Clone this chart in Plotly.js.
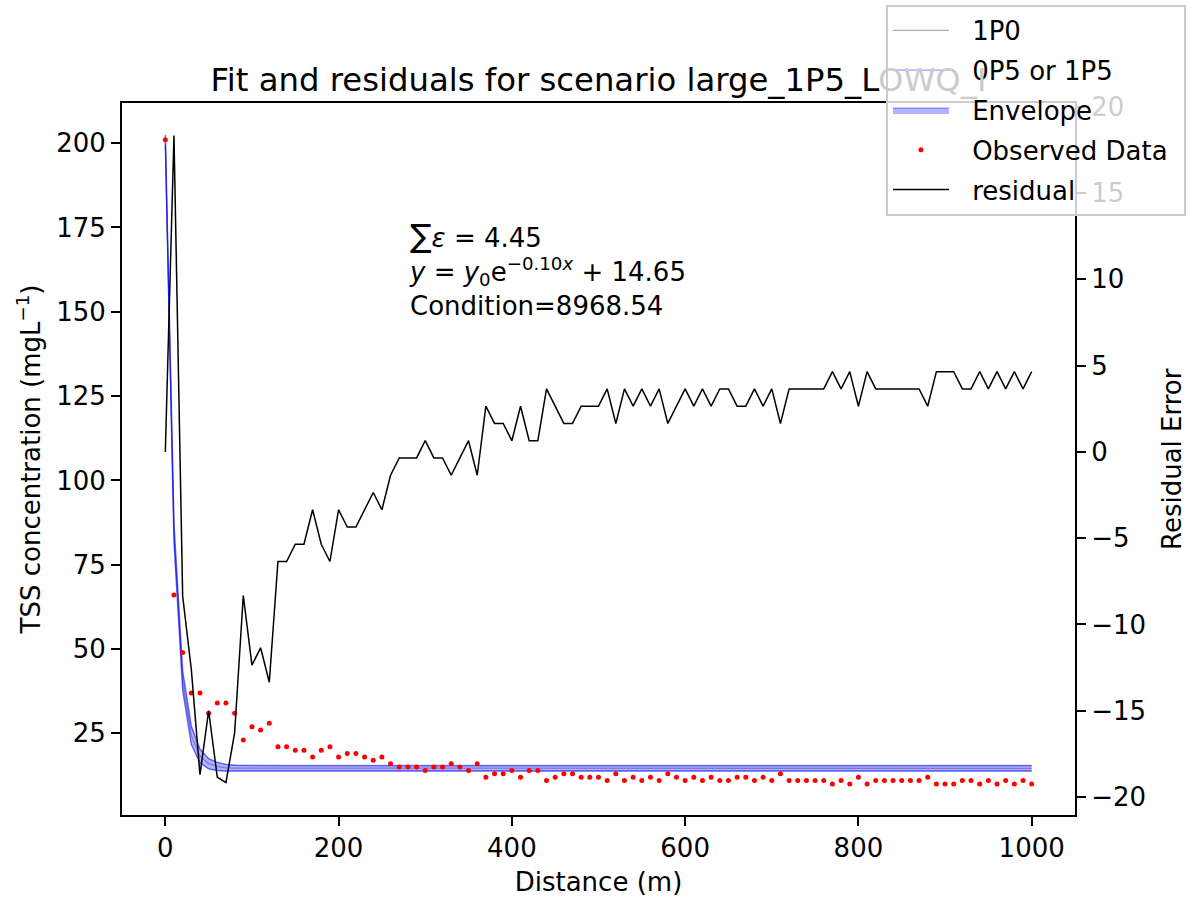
<!DOCTYPE html>
<html><head><meta charset="utf-8">
<script src="https://cdn.plot.ly/plotly-3.0.1.min.js"></script>
<style>body{margin:0;background:#fff}#chart{width:1196px;height:901px}</style>
</head><body><div id="chart"></div>
<script>
const distance = [
  0, 10, 20, 30, 40, 50, 60, 70, 80, 90,
  100, 110, 120, 130, 140, 150, 160, 170, 180, 190,
  200, 210, 220, 230, 240, 250, 260, 270, 280, 290,
  300, 310, 320, 330, 340, 350, 360, 370, 380, 390,
  400, 410, 420, 430, 440, 450, 460, 470, 480, 490,
  500, 510, 520, 530, 540, 550, 560, 570, 580, 590,
  600, 610, 620, 630, 640, 650, 660, 670, 680, 690,
  700, 710, 720, 730, 740, 750, 760, 770, 780, 790,
  800, 810, 820, 830, 840, 850, 860, 870, 880, 890,
  900, 910, 920, 930, 940, 950, 960, 970, 980, 990,
  1000];

const observed = [
  201, 66, 49, 37, 37, 31, 34, 34, 31, 23,
  27, 26, 28, 21, 21, 20, 20, 18, 20, 21,
  18, 19, 19, 18, 17, 18, 16, 15, 15, 15,
  14, 15, 15, 16, 15, 14, 16, 12, 13, 13,
  14, 12, 14, 14, 11, 12, 13, 13, 12, 12,
  12, 11, 13, 11, 12, 11, 12, 11, 13, 12,
  11, 12, 11, 12, 11, 11, 12, 12, 11, 12,
  11, 13, 11, 11, 11, 11, 11, 10, 11, 10,
  12, 10, 11, 11, 11, 11, 11, 11, 12, 10,
  10, 10, 11, 11, 10, 11, 10, 11, 10, 11,
  10];

const residual = [
  0.0, 18.34, -8.35, -12.6, -18.7, -15.0, -18.85, -19.16, -16.28, -8.32,
  -12.35, -11.35, -13.35, -6.35, -6.35, -5.35, -5.35, -3.35, -5.35, -6.35,
  -3.35, -4.35, -4.35, -3.35, -2.35, -3.35, -1.35, -0.35, -0.35, -0.35,
  0.65, -0.35, -0.35, -1.35, -0.35, 0.65, -1.35, 2.65, 1.65, 1.65,
  0.65, 2.65, 0.65, 0.65, 3.65, 2.65, 1.65, 1.65, 2.65, 2.65,
  2.65, 3.65, 1.65, 3.65, 2.65, 3.65, 2.65, 3.65, 1.65, 2.65,
  3.65, 2.65, 3.65, 2.65, 3.65, 3.65, 2.65, 2.65, 3.65, 2.65,
  3.65, 1.65, 3.65, 3.65, 3.65, 3.65, 3.65, 4.65, 3.65, 4.65,
  2.65, 4.65, 3.65, 3.65, 3.65, 3.65, 3.65, 3.65, 2.65, 4.65,
  4.65, 4.65, 3.65, 3.65, 4.65, 3.65, 4.65, 3.65, 4.65, 3.65,
  4.65];

const fit1P0 = [
  201.0, 84.3, 40.7, 24.4, 18.3, 16.0, 15.2, 14.8, 14.7, 14.7,
  14.65, 14.65, 14.65, 14.65, 14.65, 14.65, 14.65, 14.65, 14.65, 14.65,
  14.65, 14.65, 14.65, 14.65, 14.65, 14.65, 14.65, 14.65, 14.65, 14.65,
  14.65, 14.65, 14.65, 14.65, 14.65, 14.65, 14.65, 14.65, 14.65, 14.65,
  14.65, 14.65, 14.65, 14.65, 14.65, 14.65, 14.65, 14.65, 14.65, 14.65,
  14.65, 14.65, 14.65, 14.65, 14.65, 14.65, 14.65, 14.65, 14.65, 14.65,
  14.65, 14.65, 14.65, 14.65, 14.65, 14.65, 14.65, 14.65, 14.65, 14.65,
  14.65, 14.65, 14.65, 14.65, 14.65, 14.65, 14.65, 14.65, 14.65, 14.65,
  14.65, 14.65, 14.65, 14.65, 14.65, 14.65, 14.65, 14.65, 14.65, 14.65,
  14.65, 14.65, 14.65, 14.65, 14.65, 14.65, 14.65, 14.65, 14.65, 14.65,
  14.65];

const fit0P5 = [
  199.5, 81.5, 37.9, 21.7, 16.3, 14.5, 14.0, 13.8, 13.85, 13.85,
  13.85, 13.85, 13.85, 13.85, 13.85, 13.85, 13.85, 13.85, 13.85, 13.85,
  13.85, 13.85, 13.85, 13.85, 13.85, 13.85, 13.85, 13.85, 13.85, 13.85,
  13.85, 13.85, 13.85, 13.85, 13.85, 13.85, 13.85, 13.85, 13.85, 13.85,
  13.85, 13.85, 13.85, 13.85, 13.85, 13.85, 13.85, 13.85, 13.85, 13.85,
  13.85, 13.85, 13.85, 13.85, 13.85, 13.85, 13.85, 13.85, 13.85, 13.85,
  13.85, 13.85, 13.85, 13.85, 13.85, 13.85, 13.85, 13.85, 13.85, 13.85,
  13.85, 13.85, 13.85, 13.85, 13.85, 13.85, 13.85, 13.85, 13.85, 13.85,
  13.85, 13.85, 13.85, 13.85, 13.85, 13.85, 13.85, 13.85, 13.85, 13.85,
  13.85, 13.85, 13.85, 13.85, 13.85, 13.85, 13.85, 13.85, 13.85, 13.85,
  13.85];

const fit1P5 = [
  202.5, 87.1, 43.5, 27.1, 20.3, 17.5, 16.4, 15.8, 15.55, 15.5,
  15.45, 15.45, 15.45, 15.45, 15.45, 15.45, 15.45, 15.45, 15.45, 15.45,
  15.45, 15.45, 15.45, 15.45, 15.45, 15.45, 15.45, 15.45, 15.45, 15.45,
  15.45, 15.45, 15.45, 15.45, 15.45, 15.45, 15.45, 15.45, 15.45, 15.45,
  15.45, 15.45, 15.45, 15.45, 15.45, 15.45, 15.45, 15.45, 15.45, 15.45,
  15.45, 15.45, 15.45, 15.45, 15.45, 15.45, 15.45, 15.45, 15.45, 15.45,
  15.45, 15.45, 15.45, 15.45, 15.45, 15.45, 15.45, 15.45, 15.45, 15.45,
  15.45, 15.45, 15.45, 15.45, 15.45, 15.45, 15.45, 15.45, 15.45, 15.45,
  15.45, 15.45, 15.45, 15.45, 15.45, 15.45, 15.45, 15.45, 15.45, 15.45,
  15.45, 15.45, 15.45, 15.45, 15.45, 15.45, 15.45, 15.45, 15.45, 15.45,
  15.45];

const leftTicks = [25, 50, 75, 100, 125, 150, 175, 200];
const rightTicks = [-20, -15, -10, -5, 0, 5, 10, 15, 20];
const rightTickText = ['\u221220', '\u221215', '\u221210', '\u22125', '0', '5', '10', '15', '20'];
const xTicks = [0, 200, 400, 600, 800, 1000];

const FONT = 'DejaVu Sans, sans-serif';
const PAD = '\u2002\u2009';

const traces = [
  {x: distance, y: fit1P0, mode: 'lines', name: PAD + '1P0', legendgroup: 'g1',
   line: {color: 'rgba(110,110,110,0.55)', width: 1.3}},
  {x: distance, y: fit0P5, mode: 'lines', name: PAD + '0P5 or 1P5', legendgroup: 'g2',
   line: {color: 'rgba(0,0,255,0.4)', width: 1.3}},
  {x: distance, y: fit1P5, mode: 'lines', name: PAD + '0P5 or 1P5', legendgroup: 'g2', showlegend: false,
   line: {color: 'rgba(0,0,255,0.4)', width: 1.3}},
  {x: distance, y: fit0P5, mode: 'lines', name: PAD + 'Envelope', legendgroup: 'g3', showlegend: false,
   line: {color: 'rgba(0,0,255,0.3)', width: 1.3}},
  {x: distance, y: fit1P5, mode: 'lines', name: PAD + 'Envelope', legendgroup: 'g3', fill: 'tonexty',
   fillcolor: 'rgba(0,0,255,0.3)', line: {color: 'rgba(0,0,255,0.3)', width: 1.5}},
  {x: distance, y: observed, mode: 'markers', name: PAD + 'Observed Data\u2009\u2009', legendgroup: 'g4',
   marker: {color: '#ff0000', size: 5}},
  {x: distance, y: residual, mode: 'lines', name: PAD + 'residual', legendgroup: 'g5', yaxis: 'y2',
   line: {color: 'black', width: 1.5}}
];

const axisCommon = {
  ticks: 'outside', ticklen: 9, tickwidth: 2, tickcolor: 'black',
  showline: true, linecolor: 'black', linewidth: 2,
  showgrid: false, zeroline: false, tickfont: {family: FONT, size: 26, color: 'black'}
};

const layout = {
  width: 1196, height: 901,
  margin: {l: 122, r: 121, t: 103, b: 86, pad: 0, autoexpand: false},
  paper_bgcolor: 'white', plot_bgcolor: 'white',
  font: {family: FONT, size: 26, color: 'black'},
  showlegend: true,
  hovermode: false,
  title: {text: 'Fit and residuals for scenario large_1P5_L<span style="color:#cccccc">OWQ_I</span>',
          font: {family: FONT, size: 32.3, color: 'black'},
          x: 0.5, xref: 'paper', xanchor: 'center', y: 0.912, yref: 'container', yanchor: 'middle'},
  xaxis: Object.assign({}, axisCommon, {
    range: [-50, 1050], tickvals: xTicks, mirror: true,
    title: {text: 'Distance (m)', standoff: 11, font: {family: FONT, size: 26}}
  }),
  yaxis: Object.assign({}, axisCommon, {
    range: [0.8, 211.9], tickvals: leftTicks, mirror: true,
    title: {text: 'TSS concentration (mgL<sup>\u22121</sup>)', standoff: 8, font: {family: FONT, size: 26}}
  }),
  yaxis2: Object.assign({}, axisCommon, {
    overlaying: 'y', side: 'right', anchor: 'x',
    range: [-21.04, 20.22], tickvals: rightTicks, ticktext: rightTickText
  }),
  legend: {
    xref: 'container', yref: 'container',
    x: 0.9916, y: 0.9945, xanchor: 'right', yanchor: 'top',
    bgcolor: 'rgba(255,255,255,0.8)', bordercolor: '#cccccc', borderwidth: 2,
    font: {family: FONT, size: 26, color: 'black'},
    itemwidth: 56, tracegroupgap: 3, traceorder: 'grouped'
  },
  annotations: [{
    xref: 'x', yref: 'paper', x: 279, y: 0.842, xanchor: 'left', yanchor: 'top',
    showarrow: false, align: 'left',
    font: {family: FONT, size: 26, color: 'black'},
    text: '<span style="font-size:32px">\u2211</span><i>\u03b5</i> = 4.45<br>' +
          '<i>y</i> = <i>y</i><sub>0</sub>e<sup>\u22120.10<i>x</i></sup> + 14.65<br>' +
          'Condition=8968.54'
  }, {
    xref: 'paper', yref: 'paper', x: 1.1018, y: 0.5, xanchor: 'center', yanchor: 'middle',
    showarrow: false, textangle: -90,
    font: {family: FONT, size: 26, color: 'black'},
    text: 'Residual Error'
  }]
};

Plotly.newPlot('chart', traces, layout, {staticPlot: true, displayModeBar: false});
</script>
</body></html>
